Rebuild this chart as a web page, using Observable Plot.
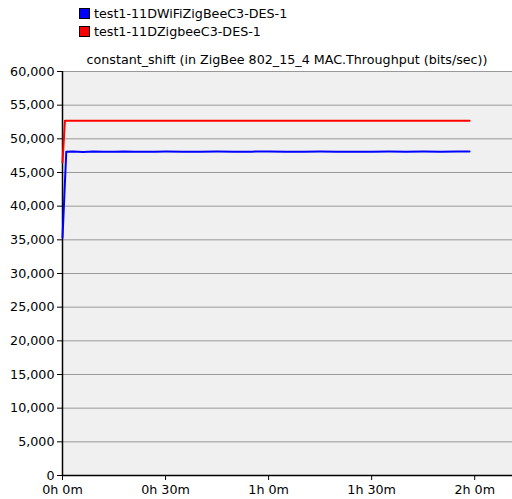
<!DOCTYPE html>
<html><head><meta charset="utf-8">
<script src="https://cdn.jsdelivr.net/npm/d3@7"></script>
<script src="https://cdn.jsdelivr.net/npm/@observablehq/plot@0.6"></script>
<style>
body{margin:0;background:#fff;font-family:"DejaVu Sans",sans-serif;}
#wrap{position:relative;width:512px;height:499px;}
.leg{position:absolute;left:79px;font-size:12.7px;color:#000;display:flex;align-items:center;}
.sw{width:9px;height:9px;border:1px solid #000;margin-right:4px;}
#title{position:absolute;left:62px;width:450px;text-align:center;top:52px;font-size:12.7px;}
</style></head>
<body><div id="wrap">
<div class="leg" style="top:6px"><div class="sw" style="background:#0000ff"></div>test1-11DWiFiZigBeeC3-DES-1</div>
<div class="leg" style="top:24px"><div class="sw" style="background:#ff0000"></div>test1-11DZigbeeC3-DES-1</div>
<div id="title">constant_shift (in ZigBee 802_15_4 MAC.Throughput (bits/sec))</div>
</div>
<script>
const seriesNames = ["test1-11DWiFiZigBeeC3-DES-1", "test1-11DZigbeeC3-DES-1"];
const colors = ["#0000ff", "#ff0000"];
const blueTime = [0, 1.1, 3, 6, 9, 12, 15, 18, 21, 24, 27, 30, 35, 40, 45, 50, 55, 60, 65, 70, 75, 80, 85, 90, 95, 100, 105, 110, 115, 118.5];
const blueVal  = [35300, 48100, 48120, 48060, 48120, 48080, 48100, 48120, 48080, 48100, 48100, 48110, 48100, 48100, 48110, 48100, 48100, 48110, 48100, 48100, 48110, 48100, 48080, 48100, 48110, 48100, 48110, 48070, 48110, 48110];
const redTime = [0, 0.7, 30, 60, 90, 118.5];
const redVal  = [46500, 52700, 52700, 52700, 52700, 52700];
const yTicks = [0,5000,10000,15000,20000,25000,30000,35000,40000,45000,50000,55000,60000];
const xTicks = [0, 30, 60, 90, 120];
const xTickLabels = ["0h 0m", "0h 30m", "1h 0m", "1h 30m", "2h 0m"];

const blue = blueTime.map((t,i)=>({t, v: blueVal[i], s: seriesNames[0]}));
const red = redTime.map((t,i)=>({t, v: redVal[i], s: seriesNames[1]}));

const chart = Plot.plot({
  width: 512, height: 499,
  marginLeft: 62, marginRight: 0, marginTop: 71, marginBottom: 24,
  style: {fontFamily: "DejaVu Sans, sans-serif", fontSize: "12.7px", color: "#000", background: "transparent", overflow: "visible"},
  x: {domain: [0, 131], ticks: xTicks, label: null},
  y: {domain: [0, 60000], ticks: yTicks, label: null},
  marks: [
    Plot.frame({fill: "#f0f0f0", stroke: null}),
    Plot.ruleY(yTicks, {stroke: "#999", strokeWidth: 1}),
    Plot.ruleX([0], {stroke: "#000", strokeWidth: 1.5}),
    Plot.ruleY([0], {stroke: "#000", strokeWidth: 1.5}),
    Plot.axisY({ticks: yTicks, tickFormat: d3.format(","), tickSize: 5, tickPadding: 3, label: null, stroke: "#000"}),
    Plot.axisX({ticks: xTicks, tickFormat: d=>xTickLabels[xTicks.indexOf(d)], tickSize: 5, tickPadding: 4, label: null}),
    Plot.line(red, {x: "t", y: "v", stroke: colors[1], strokeWidth: 2}),
    Plot.line(blue, {x: "t", y: "v", stroke: colors[0], strokeWidth: 2})
  ]
});
chart.style.position = "absolute";
chart.style.left = "0"; chart.style.top = "0";
document.getElementById("wrap").prepend(chart);
</script></body></html>
